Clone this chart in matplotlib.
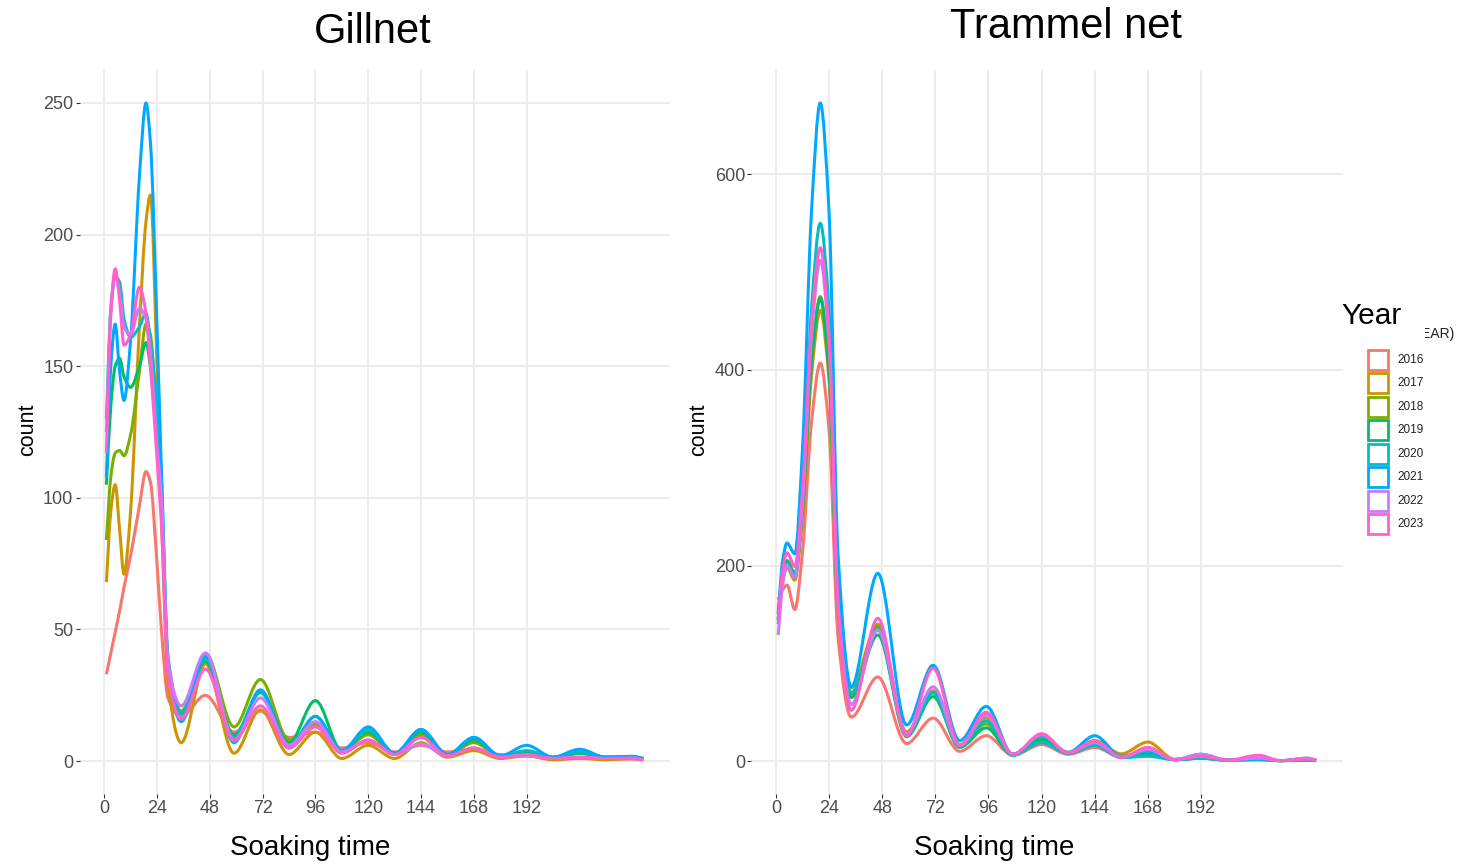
import numpy as np
import matplotlib
matplotlib.use("Agg")
import matplotlib.pyplot as plt
from matplotlib.path import Path
from matplotlib.patches import PathPatch, Rectangle

plt.rcParams["font.family"] = ["Liberation Sans", "DejaVu Sans"]

years = [2016, 2017, 2018, 2019, 2020, 2021, 2022, 2023]
colors = ["#F8766D", "#CD9600", "#7CAE00", "#00BE67",
          "#00BFC4", "#00A9FF", "#C77CFF", "#FF61CC"]

# Gillnet: counts read at these soaking hours (peaks / troughs of each curve)
gill_hours = [1, 3, 5, 7, 9, 12, 16, 19, 21, 24, 26, 29, 35, 46, 59, 71, 84, 96,
              108, 120, 132, 144, 156, 168, 180, 192, 204, 216, 228, 240, 245]
gill_2016 = [33, 41, 49, 57, 66, 78, 97, 110, 106, 75, 50, 24, 17, 25, 11, 19, 9, 11,
             5, 7, 3.5, 6, 3.5, 4.5, 2.5, 2, 1, 1.2, 0.8, 0.8, 0.5]
gill_2017 = [68, 95, 105, 88, 71, 95, 165, 205, 215, 150, 95, 30, 7, 37, 3, 19.5, 2.5, 11,
             1, 6, 1, 7, 1.5, 4, 1, 2, 0.5, 1, 0.5, 1, 0.5]
gill_2018 = [84, 108, 117, 118, 116, 124, 148, 166, 162, 125, 95, 38, 19, 41, 13, 31, 8, 14,
             4, 10, 3, 10, 2.5, 7, 2, 3, 1, 3, 1.5, 1.5, 1]
gill_2019 = [105, 135, 150, 153, 146, 142, 150, 159, 150, 130, 100, 36, 18, 38, 10, 26, 7, 23,
             4, 11, 3, 11, 2.5, 8, 2, 3.5, 1.5, 3, 1.5, 1.5, 1]
gill_2020 = [130, 172, 184, 182, 168, 161, 165, 170, 160, 135, 108, 40, 18, 39, 9, 27, 6, 17,
             4, 12, 3, 12, 2.5, 9, 2, 4, 1.5, 3.5, 1.5, 1.8, 1]
gill_2021 = [108, 150, 166, 148, 137, 160, 222, 250, 235, 165, 110, 36, 15, 40, 7, 27, 5, 17,
             4, 13, 3, 12, 2.5, 9, 2, 6, 1.5, 4.5, 1.5, 1.8, 1]
gill_2022 = [125, 170, 185, 178, 165, 162, 172, 168, 155, 120, 100, 38, 21, 41, 8, 24, 6, 15,
             3.5, 8, 2.5, 6.5, 2, 5, 1.5, 2, 1, 1.5, 1, 1.2, 0.5]
gill_2023 = [117, 170, 187, 175, 158, 162, 180, 170, 150, 115, 90, 33, 16, 35, 8, 21, 5, 13,
             3, 8, 2.5, 9, 2, 5, 1.5, 2.5, 1, 1.5, 1, 1, 0.5]

# Trammel net
tram_hours = [1, 3, 5, 8.5, 12, 16, 20, 24, 28, 34, 46, 59, 71, 83, 95, 107,
              120, 132, 144, 156, 168, 180, 192, 204, 218, 228, 240, 244]
tram_2016 = [165, 175, 180, 155, 214, 345, 407, 338, 128, 45, 86, 18, 44, 10, 26, 6,
             17, 7, 14, 4, 7, 1.5, 3, 1, 2, 0.5, 1, 0.5]
tram_2017 = [145, 185, 198, 185, 250, 393, 461, 388, 164, 75, 140, 30, 72, 17, 44, 7,
             25, 9, 21, 7.5, 19.5, 2, 4, 1, 2, 0.5, 1.5, 0.5]
tram_2018 = [140, 185, 200, 190, 257, 405, 475, 398, 162, 68, 138, 28, 70, 16, 38, 7,
             22, 8.5, 18, 4, 9, 1.5, 3, 1, 2, 0.5, 1.5, 0.5]
tram_2019 = [145, 190, 205, 192, 258, 406, 473, 397, 159, 65, 129, 25, 66, 14, 34, 6,
             22, 8, 17, 4, 7, 1.5, 3, 1, 1.5, 0.5, 1, 0.5]
tram_2020 = [150, 190, 200, 188, 273, 461, 550, 459, 180, 70, 135, 27, 70, 15, 41, 6,
             19, 8, 16, 3.5, 5, 1.5, 3, 1, 1.5, 0.5, 1.5, 0.5]
tram_2021 = [151, 205, 223, 212, 320, 560, 673, 560, 213, 76, 192, 37, 98, 21, 56, 7,
             26, 9, 26, 5, 10, 1.5, 7, 1, 2, 0.5, 3, 1]
tram_2022 = [129, 180, 200, 188, 264, 433, 512, 426, 162, 58, 134, 28, 76, 16, 47, 7,
             27, 8.5, 19, 4, 12, 1.5, 7, 1, 3, 0.5, 3, 1]
tram_2023 = [144, 195, 213, 199, 276, 445, 525, 435, 161, 52, 146, 26, 95, 16, 50, 7,
             28, 8.5, 20.5, 4, 14, 1.5, 5, 1, 6, 0.5, 2, 1]

gill_series = [gill_2016, gill_2017, gill_2018, gill_2019, gill_2020, gill_2021, gill_2022, gill_2023]
tram_series = [tram_2016, tram_2017, tram_2018, tram_2019, tram_2020, tram_2021, tram_2022, tram_2023]

x_ticks = [0, 24, 48, 72, 96, 120, 144, 168, 192]


def smooth_path(x, y):
    # monotone cubic (Fritsch-Carlson) drawn as bezier segments
    x = np.asarray(x, float)
    y = np.asarray(y, float)
    h = np.diff(x)
    d = np.diff(y) / h
    m = np.zeros_like(y)
    m[0], m[-1] = d[0], d[-1]
    for i in range(1, len(y) - 1):
        if d[i - 1] * d[i] <= 0:
            m[i] = 0
        else:
            w1 = 2 * h[i] + h[i - 1]
            w2 = h[i] + 2 * h[i - 1]
            m[i] = (w1 + w2) / (w1 / d[i - 1] + w2 / d[i])
    verts = [(x[0], y[0])]
    codes = [Path.MOVETO]
    for i in range(len(h)):
        verts += [(x[i] + h[i] / 3, y[i] + m[i] * h[i] / 3),
                  (x[i + 1] - h[i] / 3, y[i + 1] - m[i + 1] * h[i] / 3),
                  (x[i + 1], y[i + 1])]
        codes += [Path.CURVE4] * 3
    return Path(verts, codes)


def draw_panel(ax, hours, series, yticks):
    for vals, c in zip(series, colors):
        ax.add_patch(PathPatch(smooth_path(hours, vals), fill=False, edgecolor=c,
                               lw=2.2, capstyle="butt", joinstyle="round"))
    lo, hi = min(hours), max(hours)
    ax.set_xlim(lo - 0.05 * (hi - lo), hi + 0.05 * (hi - lo))
    ymax = max(max(v) for v in series)
    ax.set_ylim(-0.05 * ymax, 1.05 * ymax)
    ax.set_xticks(x_ticks)
    ax.set_yticks(yticks)
    for s in ax.spines.values():
        s.set_visible(False)
    ax.grid(True, color="#EBEBEB", lw=1.3)
    ax.set_axisbelow(True)
    ax.tick_params(colors="#333333", labelcolor="#4D4D4D", labelsize=13,
                   length=3, width=0.8, pad=1.5)


fig = plt.figure(figsize=(14.76, 8.66), dpi=100)
ax1 = fig.add_axes([0.0539, 0.0831, 0.4001, 0.836])
ax2 = fig.add_axes([0.509, 0.0831, 0.4009, 0.836])

draw_panel(ax1, gill_hours, gill_series, [0, 50, 100, 150, 200, 250])
draw_panel(ax2, tram_hours, tram_series, [0, 200, 400, 600])

fig.text(0.2527, 0.963, "Gillnet", fontsize=30, ha="center", va="center")
fig.text(0.7222, 0.969, "Trammel net", fontsize=30, ha="center", va="center")
fig.text(0.21, 0.0208, "Soaking time", fontsize=20, ha="center", va="center")
fig.text(0.6734, 0.0208, "Soaking time", fontsize=20, ha="center", va="center")
fig.text(0.019, 0.5035, "count", fontsize=15.5, rotation=90, ha="center", va="center")
fig.text(0.4736, 0.5035, "count", fontsize=15.5, rotation=90, ha="center", va="center")

# legend: old title partly hidden under a pasted "Year"
fig.text(0.9858, 0.6143, "factor(YEAR)", fontsize=10, ha="right", va="center", color="#222222")
fig.patches.append(Rectangle((0.9045, 0.6028), 0.0610, 0.0208, transform=fig.transFigure,
                             facecolor="white", edgecolor="none", zorder=5))
fig.text(0.9085, 0.6351, "Year", fontsize=21.5, ha="left", va="center", zorder=6)

lax = fig.add_axes([1360 / 1476, 0.3808, 80 / 1476, 0.2171])
lax.set_xlim(0, 80)
lax.set_ylim(len(years) - 0.5, -0.5)
lax.axis("off")
for i, (yr, c) in enumerate(zip(years, colors)):
    lax.plot([17.5], [i], ls="none", marker="s", ms=14, mfc="none", mec=c, mew=2,
             clip_on=False)
    lax.text(37, i, str(yr), fontsize=8.5, va="center", ha="left", color="#222222")

fig.savefig("out.png", dpi=100)
